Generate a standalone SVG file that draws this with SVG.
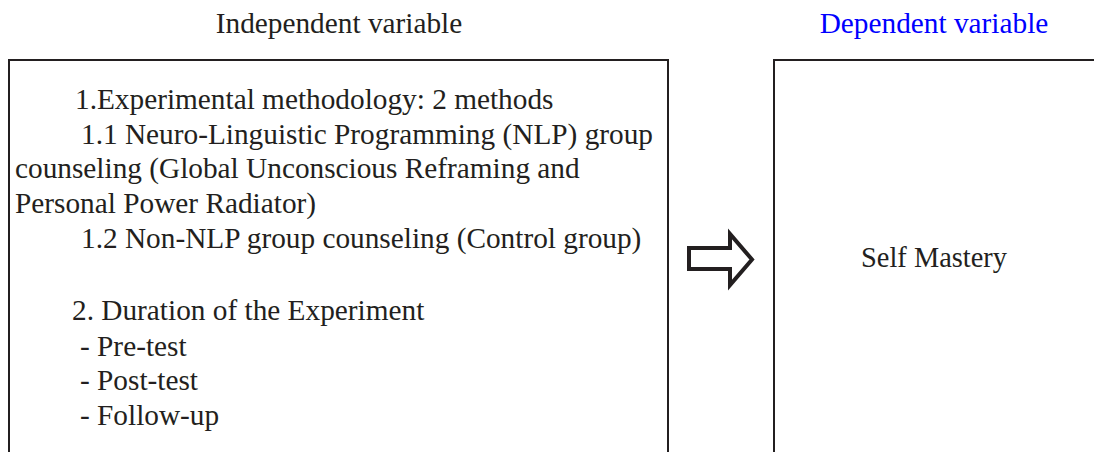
<svg xmlns="http://www.w3.org/2000/svg" width="1094" height="452" viewBox="0 0 1094 452">
<style>
text{font-family:"Liberation Serif","Times New Roman",serif;font-size:29.3px;fill:#231f20}
.hdr{text-anchor:middle}
.blue{fill:#0000ff}
.sm{font-size:28.4px}
.box{fill:#ffffff;stroke:#231f20;stroke-width:2}
.arrow{fill:#ffffff;stroke:#231f20;stroke-width:4;stroke-linejoin:miter}
</style>
<rect width="1094" height="452" fill="#ffffff"/>
<g id="header-independent">
<text class="hdr" x="339" y="33">Independent variable</text>
</g>
<g id="header-dependent">
<text class="hdr blue" x="934" y="33">Dependent variable</text>
</g>
<g id="node-independent">
<rect class="box" x="9" y="60" width="659" height="420"/>
<text x="75" y="108.5">1.Experimental methodology: 2 methods</text>
<text x="81" y="144">1.1 Neuro-Linguistic Programming (NLP) group</text>
<text x="15" y="178">counseling (Global Unconscious Reframing and</text>
<text x="15" y="213">Personal Power Radiator)</text>
<text x="81" y="247.5">1.2 Non-NLP group counseling (Control group)</text>
<text x="72" y="320">2. Duration of the Experiment</text>
<text x="80" y="355.5">- Pre-test</text>
<text x="80" y="390">- Post-test</text>
<text x="80" y="425">- Follow-up</text>
</g>
<g id="node-dependent">
<rect class="box" x="774" y="60" width="330" height="420"/>
<text class="hdr sm" x="934" y="267">Self Mastery</text>
</g>
<g id="connectors">
<path class="arrow" d="M689,248 L730,248 L730,234 L752,259.5 L730,285 L730,269 L689,269 Z"/>
</g>
</svg>
